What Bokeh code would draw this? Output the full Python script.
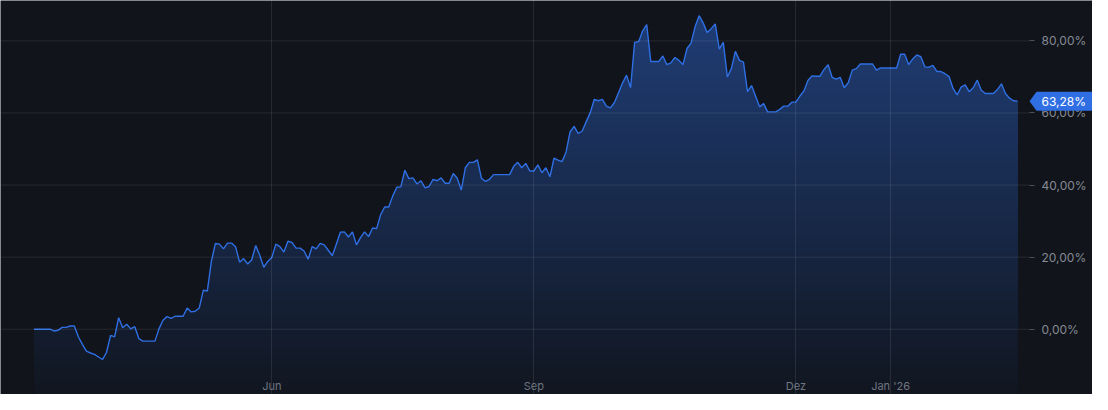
import numpy as np
from bokeh.plotting import figure
from bokeh.models import FixedTicker, Range1d, Label, CustomJSTickFormatter, PolyAnnotation
from bokeh.embed import file_html
from bokeh.resources import INLINE

# ---- data (performance in %, one value per trading day) ----
performance = [
    0.0, 0.0, 0.0, 0.0, 0.0, -0.5, -0.3, 0.5, 0.5, 0.9,
    0.9, -2.1, -4.2, -6.1, -6.6, -7.0, -7.7, -8.4, -6.4, -1.7,
    -2.1, 3.2, 0.4, 1.4, 0.1, 0.7, -2.6, -3.3, -3.3, -3.3,
    -3.3, 0.1, 2.5, 3.5, 3.0, 3.6, 3.6, 3.6, 5.9, 4.8,
    5.0, 5.9, 10.8, 10.6, 18.8, 23.8, 23.6, 22.3, 23.9, 23.9,
    22.9, 18.6, 19.6, 18.1, 19.2, 23.2, 20.5, 17.2, 18.8, 19.9,
    23.6, 22.9, 21.4, 24.4, 24.1, 22.5, 22.5, 21.7, 19.4, 22.9,
    22.3, 23.8, 23.4, 21.9, 20.4, 23.6, 26.9, 27.0, 25.6, 27.0,
    23.4, 25.4, 27.0, 25.7, 28.1, 27.9, 31.8, 33.9, 33.9, 37.0,
    39.4, 39.5, 44.1, 41.8, 42.0, 40.3, 41.2, 39.2, 39.6, 41.6,
    41.2, 42.0, 40.5, 40.5, 43.2, 41.9, 38.6, 44.8, 46.3, 46.3,
    47.0, 41.9, 41.0, 41.6, 42.9, 42.9, 42.9, 42.9, 42.9, 45.2,
    46.3, 44.8, 46.0, 43.9, 43.9, 45.6, 43.4, 44.8, 42.3, 47.5,
    46.9, 46.5, 49.2, 54.8, 56.3, 54.3, 55.0, 57.6, 60.1, 63.8,
    63.4, 63.8, 61.9, 61.4, 62.9, 65.6, 68.3, 70.5, 67.0, 79.6,
    79.8, 82.8, 84.5, 74.3, 74.3, 74.3, 75.8, 73.4, 73.9, 75.4,
    74.6, 73.4, 77.9, 79.4, 83.9, 87.0, 85.0, 82.3, 83.4, 84.7,
    77.7, 79.6, 70.0, 72.3, 77.1, 74.6, 74.1, 65.9, 67.6, 64.7,
    61.7, 62.6, 60.3, 60.3, 60.3, 61.0, 61.9, 61.9, 63.0, 63.0,
    64.7, 66.1, 69.0, 70.3, 70.2, 70.2, 72.1, 73.4, 69.9, 69.4,
    69.9, 67.0, 68.4, 71.9, 72.3, 73.6, 73.6, 73.6, 73.6, 71.9,
    72.5, 72.5, 72.5, 72.5, 72.5, 76.3, 76.3, 73.4, 75.0, 76.1,
    75.6, 72.8, 72.7, 73.2, 71.5, 71.5, 70.9, 70.1, 66.8, 65.0,
    67.2, 67.8, 65.9, 67.0, 69.1, 66.3, 65.4, 65.4, 65.4, 66.5,
    68.1, 65.4, 64.1, 63.4, 63.28,
]
month_tick_positions = [59, 124, 189, 212.5]
month_tick_labels = ["Jun", "Sep", "Dez", "Jan '26"]
pct_ticks = [0, 20, 40, 60, 80]

BG = "#11141b"
LINE = "#2f6fe3"
TAG = "#2f6fe3"
FONT = "Inter"

trading_day = np.arange(len(performance))
vals = np.array(performance, dtype=float)

W, H = 1092, 394
PX_X = 4.031          # pixels per trading day
PX_Y = 3.604          # pixels per percent point
x_start = -8.31
x_end = x_start + W / PX_X
y_hi = 91.21
y_lo = y_hi - H / PX_Y

p = figure(width=W, height=H, output_backend="svg", toolbar_location=None,
           x_range=Range1d(x_start, x_end), y_range=Range1d(y_lo, y_hi),
           y_axis_location="right",
           background_fill_color=BG, border_fill_color=BG,
           min_border_left=0, min_border_top=0, min_border_right=0, min_border_bottom=0)
p.outline_line_color = None

# position of the price scale / time scale inside the pane
axis_x = x_start + 1029 / PX_X
axis_y = y_hi - 377 / PX_Y

# ---- vertical gradient fill emulated with stacked areas ----
n_bands = 48
top_rgb = np.array([31, 61, 117])
bot_rgb = np.array([17, 22, 32])
edges = np.linspace(y_lo, vals.max(), n_bands + 1)
for k in reversed(range(n_bands)):
    frac = (k + 0.5) / n_bands
    c = bot_rgb + (top_rgb - bot_rgb) * frac
    col = "#%02x%02x%02x" % tuple(int(round(v)) for v in c)
    p.varea(x=trading_day, y1=y_lo, y2=np.minimum(vals, edges[k + 1]),
            fill_color=col, fill_alpha=1.0)

p.line(trading_day, vals, line_color=LINE, line_width=1.4)

# ---- grids ----
p.ygrid[0].visible = False
p.segment(x0=x_start, x1=axis_x, y0=pct_ticks, y1=pct_ticks,
          line_color="#ffffff", line_alpha=0.09, line_width=1, level="overlay")
xg = p.xgrid[0]
xg.ticker = FixedTicker(ticks=month_tick_positions)
xg.grid_line_color = "#ffffff"
xg.grid_line_alpha = 0.09
xg.level = "overlay"

# ---- y axis (right, drawn inside the pane) ----
ya = p.yaxis[0]
ya.fixed_location = axis_x
ya.ticker = FixedTicker(ticks=pct_ticks)
ya.formatter = CustomJSTickFormatter(code="return tick.toFixed(2).replace('.', ',') + '%';")
ya.axis_line_color = None
ya.major_tick_in = 0
ya.major_tick_out = 5
ya.major_tick_line_color = "#4b505b"
ya.minor_tick_line_color = None
ya.major_label_standoff = 7
ya.major_label_text_font = FONT
ya.major_label_text_font_size = "12px"
ya.major_label_text_color = "#858a94"

# ---- x axis (drawn inside the pane, near the bottom) ----
xa = p.xaxis[0]
xa.fixed_location = axis_y
xa.ticker = FixedTicker(ticks=month_tick_positions)
xa.major_label_overrides = dict(zip(month_tick_positions, month_tick_labels))
xa.axis_line_color = None
xa.major_tick_in = 0
xa.major_tick_out = 0
xa.minor_tick_line_color = None
xa.major_label_standoff = 1
xa.major_label_text_font = FONT
xa.major_label_text_font_size = "11px"
xa.major_label_text_color = "#6f7580"

# ---- last value tag ----
last = vals[-1]
box_x = axis_x + 7 / PX_X
half_h = 9.5 / PX_Y
tag_shape = PolyAnnotation(xs=[axis_x, box_x, x_end, x_end, box_x],
                           ys=[last, last + half_h, last + half_h, last - half_h, last - half_h],
                           fill_color=TAG, fill_alpha=1.0, line_color=None)
p.add_layout(tag_shape)
tag = Label(x=box_x, y=last, x_offset=5, text=f"{last:.2f}".replace(".", ",") + "%",
            text_color="#ffffff", text_font=FONT, text_font_size="12px",
            text_baseline="middle", text_align="left")
p.add_layout(tag)

open("out.html", "w").write(file_html(p, INLINE))
